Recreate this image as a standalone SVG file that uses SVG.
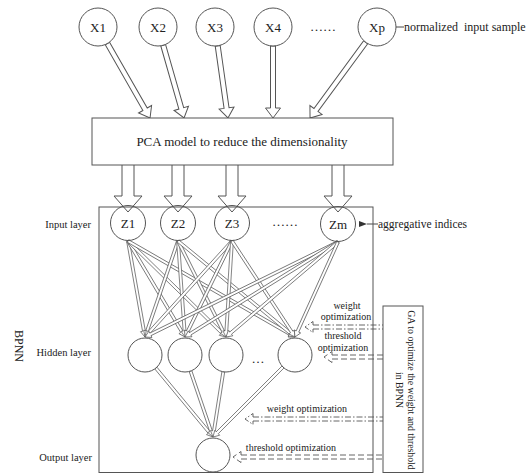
<svg xmlns="http://www.w3.org/2000/svg" width="527" height="474" viewBox="0 0 527 474">
<defs>
<style>
text{font-family:"Liberation Serif","Times New Roman",serif;fill:#222}
.node{fill:#fff;stroke:#555;stroke-width:1}
.hollow{fill:none;stroke:#555;stroke-width:1}
.blk{fill:#fff;stroke:#555;stroke-width:1;stroke-linejoin:miter}
.thin{fill:#fff;stroke:#555;stroke-width:0.7}
.lbl{font-size:13px;text-anchor:middle}
.lay{font-size:10.5px;text-anchor:end}
.opt{font-size:10px;text-anchor:middle}
.dd{fill:none;stroke:#555;stroke-width:0.9;stroke-dasharray:6 2 1.5 2}
.ds{fill:none;stroke:#555;stroke-width:0.9;stroke-dasharray:6 3}
.ptr{fill:none;stroke:#333;stroke-width:0.9}
</style>
<marker id="tipL" viewBox="0 0 8 6" refX="0" refY="3" markerWidth="8" markerHeight="6" orient="auto-start-reverse" markerUnits="userSpaceOnUse">
<path d="M0,3 L8,0 L8,6 Z" fill="#333"/>
</marker>
</defs>
<rect width="527" height="474" fill="#fff"/>

<g id="connectors">
<!-- X to PCA -->
<path class="blk" transform="translate(107.4,43.5) rotate(60.2)" d="M0,-2.5 L75.8,-2.5 L75.8,-7.5 L85.8,0 L75.8,7.5 L75.8,2.5 L0,2.5 Z"/>
<path class="blk" transform="translate(163.2,45.3) rotate(74)" d="M0,-2.5 L65.6,-2.5 L65.6,-7.5 L75.6,0 L65.6,7.5 L65.6,2.5 L0,2.5 Z"/>
<path class="blk" transform="translate(217.7,45.8) rotate(81.9)" d="M0,-2.5 L62.9,-2.5 L62.9,-7.5 L72.9,0 L62.9,7.5 L62.9,2.5 L0,2.5 Z"/>
<path class="blk" transform="translate(273,46) rotate(90)" d="M0,-2.5 L62,-2.5 L62,-7.5 L72,0 L62,7.5 L62,2.5 L0,2.5 Z"/>
<path class="blk" transform="translate(365.7,42.3) rotate(126.3)" d="M0,-2.5 L84,-2.5 L84,-7.5 L94,0 L84,7.5 L84,2.5 L0,2.5 Z"/>
<!-- PCA to Z -->
<path class="blk" d="M122,165 L122,196 L114,196 L128,212 L142,196 L134,196 L134,165"/>
<path class="blk" d="M172,165 L172,196 L164,196 L178,212 L192,196 L184,196 L184,165"/>
<path class="blk" d="M226,165 L226,196 L218,196 L232,212 L246,196 L238,196 L238,165"/>
<path class="blk" d="M332,165 L332,196 L324,196 L338,212 L352,196 L344,196 L344,165"/>
<!-- Z to hidden -->
<g class="thin">
<path transform="translate(128,241) rotate(79.96)" d="M0,-1.4 L91.49,-1.4 L91.49,-3.5 L97.49,0 L91.49,3.5 L91.49,1.4 L0,1.4 Z"/>
<path transform="translate(128,241) rotate(59.30)" d="M0,-1.4 L105.65,-1.4 L105.65,-3.5 L111.65,0 L105.65,3.5 L105.65,1.4 L0,1.4 Z"/>
<path transform="translate(128,241) rotate(44.41)" d="M0,-1.4 L131.19,-1.4 L131.19,-3.5 L137.19,0 L131.19,3.5 L131.19,1.4 L0,1.4 Z"/>
<path transform="translate(128,241) rotate(29.89)" d="M0,-1.4 L186.63,-1.4 L186.63,-3.5 L192.63,0 L186.63,3.5 L186.63,1.4 L0,1.4 Z"/>
<path transform="translate(178,241) rotate(108.97)" d="M0,-1.4 L95.51,-1.4 L95.51,-3.5 L101.51,0 L95.51,3.5 L95.51,1.4 L0,1.4 Z"/>
<path transform="translate(178,241) rotate(85.83)" d="M0,-1.4 L90.25,-1.4 L90.25,-3.5 L96.25,0 L90.25,3.5 L90.25,1.4 L0,1.4 Z"/>
<path transform="translate(178,241) rotate(63.43)" d="M0,-1.4 L101.33,-1.4 L101.33,-3.5 L107.33,0 L101.33,3.5 L101.33,1.4 L0,1.4 Z"/>
<path transform="translate(178,241) rotate(39.37)" d="M0,-1.4 L145.34,-1.4 L145.34,-3.5 L151.34,0 L145.34,3.5 L145.34,1.4 L0,1.4 Z"/>
<path transform="translate(232,241) rotate(132.19)" d="M0,-1.4 L123.56,-1.4 L123.56,-3.5 L129.56,0 L123.56,3.5 L123.56,1.4 L0,1.4 Z"/>
<path transform="translate(232,241) rotate(116.09)" d="M0,-1.4 L100.89,-1.4 L100.89,-3.5 L106.89,0 L100.89,3.5 L100.89,1.4 L0,1.4 Z"/>
<path transform="translate(232,241) rotate(93.58)" d="M0,-1.4 L90.19,-1.4 L90.19,-3.5 L96.19,0 L90.19,3.5 L90.19,1.4 L0,1.4 Z"/>
<path transform="translate(232,241) rotate(56.72)" d="M0,-1.4 L108.83,-1.4 L108.83,-3.5 L114.83,0 L108.83,3.5 L108.83,1.4 L0,1.4 Z"/>
<path transform="translate(338,242) rotate(153.79)" d="M0,-1.4 L209.11,-1.4 L209.11,-3.5 L215.11,0 L209.11,3.5 L209.11,1.4 L0,1.4 Z"/>
<path transform="translate(338,242) rotate(148.17)" d="M0,-1.4 L174.09,-1.4 L174.09,-3.5 L180.09,0 L174.09,3.5 L174.09,1.4 L0,1.4 Z"/>
<path transform="translate(338,242) rotate(139.69)" d="M0,-1.4 L140.86,-1.4 L140.86,-3.5 L146.86,0 L140.86,3.5 L140.86,1.4 L0,1.4 Z"/>
<path transform="translate(338,242) rotate(114.36)" d="M0,-1.4 L98.28,-1.4 L98.28,-3.5 L104.28,0 L98.28,3.5 L98.28,1.4 L0,1.4 Z"/>
<!-- hidden to output -->
<path transform="translate(155.9,368.1) rotate(50.35)" d="M0,-1.4 L83.5,-1.4 L83.5,-3.5 L89.5,0 L83.5,3.5 L83.5,1.4 L0,1.4 Z"/>
<path transform="translate(190.5,371.1) rotate(71.15)" d="M0,-1.4 L63.6,-1.4 L63.6,-3.5 L69.6,0 L63.6,3.5 L63.6,1.4 L0,1.4 Z"/>
<path transform="translate(223.3,371.8) rotate(98.98)" d="M0,-1.4 L60,-1.4 L60,-3.5 L66,0 L60,3.5 L60,1.4 L0,1.4 Z"/>
<path transform="translate(283,367) rotate(135)" d="M0,-1.4 L93,-1.4 L93,-3.5 L99,0 L93,3.5 L93,1.4 L0,1.4 Z"/>
</g>
<!-- GA optimization arrows -->
<path class="dd" d="M313,325 L383,325 M313,329 L383,329 M313,325 L313,321.5 L305,327 L313,332.5 L313,329"/>
<path class="ds" d="M332,355 L383,355 M332,359 L383,359 M332,355 L332,351.5 L324,357 L332,362.5 L332,359"/>
<path class="dd" d="M253,417 L383,417 M253,421 L383,421 M253,417 L253,413.5 L245,419 L253,424.5 L253,421"/>
<path class="ds" d="M241,455 L383,455 M241,459 L383,459 M241,455 L241,451.5 L233,457 L241,462.5 L241,459"/>
<!-- annotation pointers -->
<line class="ptr" x1="404" y1="27" x2="396" y2="27" marker-end="url(#tipL)"/>
<line class="ptr" x1="378" y1="224" x2="367" y2="224" marker-end="url(#tipL)"/>
</g>

<g id="pca"><rect class="node" x="92" y="118" width="301" height="47"/><text x="242" y="146" class="lbl">PCA model to reduce the dimensionality</text></g>
<g id="bpnn"><rect class="hollow" x="99" y="207" width="274" height="265.5"/></g>
<g id="ga"><rect class="node" x="383" y="306" width="40" height="166.5"/>
<text font-size="9.8" text-anchor="middle" transform="translate(408,390) rotate(90)">GA to optimize the weight and threshold</text>
<text font-size="9.8" text-anchor="middle" transform="translate(395.5,390) rotate(90)">in BPNN</text></g>

<g id="x1"><circle class="node" cx="98" cy="27" r="19"/><text x="98" y="31.5" class="lbl">X1</text></g>
<g id="x2"><circle class="node" cx="158" cy="27" r="19"/><text x="158" y="31.5" class="lbl">X2</text></g>
<g id="x3"><circle class="node" cx="215" cy="27" r="19"/><text x="215" y="31.5" class="lbl">X3</text></g>
<g id="x4"><circle class="node" cx="273" cy="27" r="19"/><text x="273" y="31.5" class="lbl">X4</text></g>
<g id="xdots"><text x="323" y="31" class="lbl" font-size="11">……</text></g>
<g id="xp"><circle class="node" cx="377" cy="27" r="19"/><text x="377" y="31.5" class="lbl">Xp</text></g>

<g id="z1"><circle class="hollow" cx="128" cy="223" r="17.5"/><text x="128" y="227.5" class="lbl">Z1</text></g>
<g id="z2"><circle class="hollow" cx="178" cy="223" r="17.5"/><text x="178" y="227.5" class="lbl">Z2</text></g>
<g id="z3"><circle class="hollow" cx="232" cy="223" r="17.5"/><text x="232" y="227.5" class="lbl">Z3</text></g>
<g id="zdots"><text x="285" y="226" class="lbl" font-size="11">……</text></g>
<g id="zm"><circle class="hollow" cx="338" cy="224" r="17.5"/><text x="338" y="228.5" class="lbl">Zm</text></g>

<g id="h1"><circle class="node" cx="145" cy="355" r="17"/></g>
<g id="h2"><circle class="node" cx="185" cy="355" r="17"/></g>
<g id="h3"><circle class="node" cx="226" cy="355" r="17"/></g>
<g id="hdots"><text x="258" y="363" class="lbl" font-size="11">…</text></g>
<g id="h4"><circle class="node" cx="295" cy="355" r="17"/></g>
<g id="out"><circle class="node" cx="213" cy="455" r="17"/></g>

<g id="labels">
<text x="404" y="31" font-size="12" xml:space="preserve">normalized  input sample</text>
<text x="378" y="228" font-size="11.5">aggregative indices</text>
<text x="91" y="228" class="lay">Input layer</text>
<text x="91" y="356" class="lay">Hidden layer</text>
<text x="92" y="461" class="lay">Output layer</text>
<text font-size="12" text-anchor="middle" transform="translate(15,346) rotate(90)">BPNN</text>
<text x="347" y="309" class="opt">weight</text>
<text x="346" y="320" class="opt">optimization</text>
<text x="343" y="339" class="opt">threshold</text>
<text x="343" y="351" class="opt">optimization</text>
<text x="307" y="412" class="opt">weight optimization</text>
<text x="291" y="451" class="opt">threshold optimization</text>
</g>
</svg>
